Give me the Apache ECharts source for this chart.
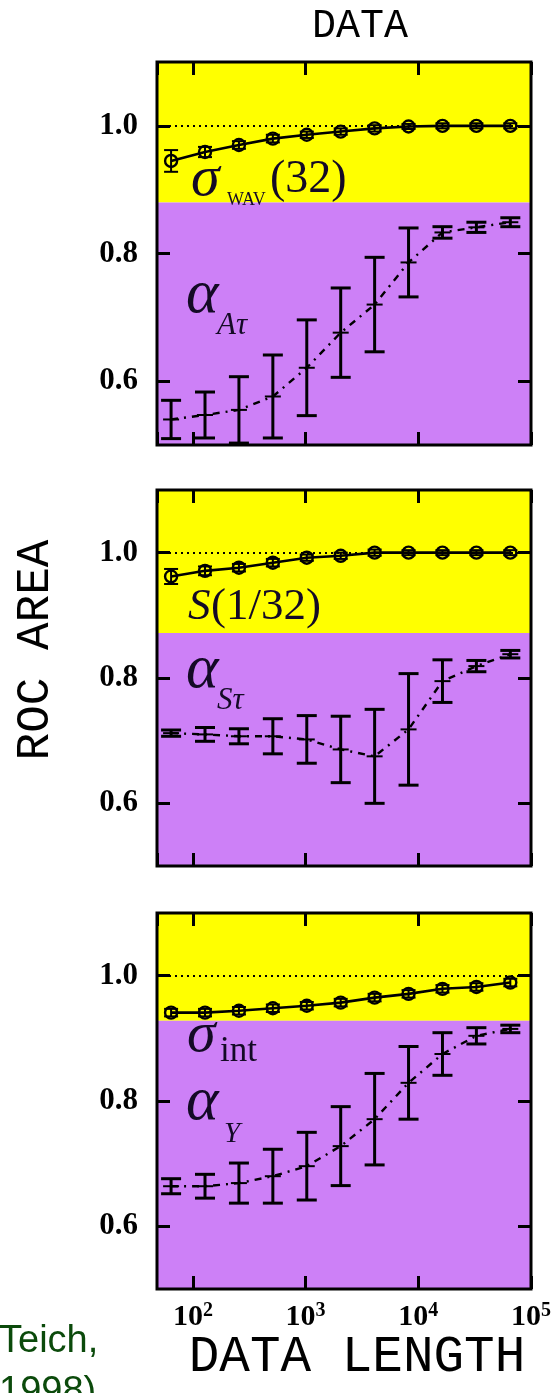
<!DOCTYPE html>
<html><head><meta charset="utf-8">
<script src="https://cdn.jsdelivr.net/npm/echarts@6/dist/echarts.min.js"></script>
<style>html,body{margin:0;padding:0;background:#fff}#c{width:557px;height:1393px}</style>
</head><body><div id="c"></div>
<script>
// ---------- data ----------
const dataLength = [64,128,256,512,1024,2048,4096,8192,16384,32768,65536];
const yTickValues = [0.6, 0.8, 1.0];
const yTickLabels = ['0.6', '0.8', '1.0'];
const xTickValues = [100, 1000, 10000, 100000];
const xTickExps = ['2', '3', '4', '5'];
const refLevel = 1.0;

// panel 1 : sigma_WAV(32) and alpha_Atau
const sigmaWav    = [0.945,0.959,0.970,0.980,0.986,0.991,0.996,0.999,1.000,1.000,1.000];
const sigmaWavErr = [0.017,0.008,0.006,0.006,0.005,0.005,0.005,0.004,0.004,0.004,0.004];
const alphaAt     = [0.540,0.547,0.555,0.576,0.621,0.676,0.720,0.786,0.833,0.841,0.849];
const alphaAtErr  = [0.030,0.036,0.052,0.065,0.075,0.070,0.074,0.054,0.009,0.008,0.007];
const band1 = 0.88;

// panel 2 : S(1/32) and alpha_Stau
const s32      = [0.962,0.971,0.976,0.984,0.992,0.995,1.000,1.000,1.000,1.000,1.000];
const s32Err   = [0.012,0.007,0.006,0.006,0.005,0.005,0.005,0.004,0.004,0.004,0.004];
const alphaSt    = [0.712,0.710,0.707,0.707,0.702,0.686,0.675,0.718,0.795,0.819,0.838];
const alphaStErr = [0.005,0.011,0.012,0.028,0.038,0.053,0.075,0.089,0.034,0.009,0.006];
const band2 = 0.872;

// panel 3 : sigma_int and alpha_Y
const sigmaInt    = [0.941,0.941,0.944,0.948,0.952,0.957,0.965,0.971,0.979,0.982,0.989];
const sigmaIntErr = [0.006,0.006,0.006,0.006,0.006,0.006,0.006,0.006,0.006,0.006,0.006];
const alphaY      = [0.664,0.664,0.669,0.680,0.696,0.728,0.771,0.829,0.875,0.904,0.915];
const alphaYErr   = [0.012,0.019,0.032,0.043,0.054,0.063,0.073,0.058,0.034,0.013,0.006];
const band3 = 0.928;

// ---------- chart ----------
const YELLOW = '#FFFF00', PURPLE = '#CD80F7', INK = '#000';
const LBL = '#140a26';
const grids = [
  {left:157, top:62,  width:374, height:383},
  {left:157, top:490, width:374, height:376},
  {left:157, top:913, width:374, height:376}
];

function errRender(capW, midW, lw){
  return function(params, api){
    const x = api.value(0), y = api.value(1), lo = api.value(2), hi = api.value(3);
    const a = api.coord([x, hi]), b = api.coord([x, lo]), m = api.coord([x, y]);
    const st = {stroke: INK, lineWidth: lw};
    const ch = [
      {type:'line', shape:{x1:a[0], y1:a[1], x2:b[0], y2:b[1]}, style:st},
      {type:'line', shape:{x1:a[0]-capW/2, y1:a[1], x2:a[0]+capW/2, y2:a[1]}, style:st},
      {type:'line', shape:{x1:b[0]-capW/2, y1:b[1], x2:b[0]+capW/2, y2:b[1]}, style:st}
    ];
    if (midW) ch.push({type:'line', shape:{x1:m[0]-midW/2, y1:m[1], x2:m[0]+midW/2, y2:m[1]}, style:{stroke:INK, lineWidth:2}});
    return {type:'group', children: ch};
  };
}
function pairs(ys){ return dataLength.map((x,i)=>[x, ys[i]]); }
function errData(ys, es){ return dataLength.map((x,i)=>[x, ys[i], ys[i]-es[i], ys[i]+es[i]]); }

const xAxes = [], yAxes = [], series = [];
const panels = [
  {up: sigmaWav, upE: sigmaWavErr, lo: alphaAt, loE: alphaAtErr, band: band1},
  {up: s32, upE: s32Err, lo: alphaSt, loE: alphaStErr, band: band2},
  {up: sigmaInt, upE: sigmaIntErr, lo: alphaY, loE: alphaYErr, band: band3}
];
panels.forEach((p, g) => {
  const xb = xAxes.length;
  ['bottom','top'].forEach(pos => {
    xAxes.push({
      type:'log', logBase:10, gridIndex:g, position:pos, min:48, max:100000, z:5,
      axisLine:{show:false}, splitLine:{show:false},
      axisTick:{show:true, inside:true, length:13, lineStyle:{color:INK, width:3}},
      axisLabel:{
        show: (g===2 && pos==='bottom'), showMinLabel:false, margin:12,
        formatter: v => { const i = xTickValues.findIndex(t => Math.abs(t-v)/t < 1e-6); return i<0 ? '' : '{b|10}{s|' + xTickExps[i] + '}'; },
        rich:{
          b:{fontFamily:'Liberation Serif', fontSize:30, color:INK, fontWeight:'bold', lineHeight:33},
          s:{fontFamily:'Liberation Serif', fontSize:20, color:INK, fontWeight:'bold', verticalAlign:'top', lineHeight:20}
        }
      }
    });
  });
  const yb = yAxes.length;
  ['left','right'].forEach(pos => {
    yAxes.push({
      type:'value', gridIndex:g, position:pos, min:0.5, max:1.1, z:5,
      axisLine:{show:false}, splitLine:{show:false},
      axisTick:{show:true, inside:true, length:13, lineStyle:{color:INK, width:3}, customValues: yTickValues},
      axisLabel:{show: pos==='left', margin:19, customValues: yTickValues,
        formatter: v => { const i = yTickValues.findIndex(t => Math.abs(t-v) < 1e-6); return i<0 ? '' : yTickLabels[i]; },
        fontFamily:'Liberation Serif', fontWeight:'bold', fontSize:31, color:INK}
    });
  });
  // background bands
  series.push({
    type:'line', xAxisIndex:xb, yAxisIndex:yb, z:1, data: pairs(p.up), showSymbol:false, symbol:'none',
    lineStyle:{width:0, opacity:0}, silent:true,
    markArea:{silent:true, data:[
      [{yAxis:p.band, itemStyle:{color:YELLOW, opacity:1}}, {yAxis:1.1}],
      [{yAxis:0.5, itemStyle:{color:PURPLE, opacity:1}}, {yAxis:p.band}]
    ]}
  });
  // lower series (dash-dot)
  series.push({
    type:'line', xAxisIndex:xb, yAxisIndex:yb, z:3, data: pairs(p.lo), symbol:'none',
    lineStyle:{color:INK, width:2.4, type:[7,6,2,6]}
  });
  series.push({
    type:'custom', xAxisIndex:xb, yAxisIndex:yb, z:4, clip:true,
    renderItem: errRender(20, 16, 3), data: errData(p.lo, p.loE)
  });
  // upper series (solid + circles) with reference line
  series.push({
    type:'line', xAxisIndex:xb, yAxisIndex:yb, z:4, data: pairs(p.up),
    symbol:'circle', symbolSize:12,
    itemStyle:{color:'rgba(0,0,0,0)', borderColor:INK, borderWidth:2.4},
    lineStyle:{color:INK, width:2.6},
    markLine:{silent:true, symbol:'none', label:{show:false},
      lineStyle:{color:INK, width:2, type:[2,4]}, data:[{yAxis:refLevel}]}
  });
  series.push({
    type:'custom', xAxisIndex:xb, yAxisIndex:yb, z:4, clip:true,
    renderItem: errRender(14, 0, 2), data: errData(p.up, p.upE)
  });
});

function t(text, x, y, font){
  return {type:'text', x:x, y:y, z:20, silent:true,
    style:{text:text, font:font, fill:LBL, align:'left', verticalAlign:'middle', textAlign:'left', textVerticalAlign:'middle'}};
}
const graphic = [
  // titles
  {type:'text', x:360, y:26, z:20, style:{text:'DATA', font:'40px "Liberation Mono"', fill:INK, align:'center', verticalAlign:'middle', textAlign:'center', textVerticalAlign:'middle'}},
  {type:'text', x:357, y:1357, z:20, style:{text:'DATA LENGTH', font:'51px "Liberation Mono"', fill:INK, align:'center', verticalAlign:'middle', textAlign:'center', textVerticalAlign:'middle'}},
  {type:'text', x:36, y:650, z:20, rotation:Math.PI/2, style:{text:'ROC AREA', font:'46px "Liberation Mono"', fill:INK, align:'center', verticalAlign:'middle', textAlign:'center', textVerticalAlign:'middle'}},
  // green citation fragment
  {type:'text', x:-1, y:1342, z:20, style:{text:'Teich,', font:'38px "Liberation Sans"', fill:'#0b4a0b', align:'left', verticalAlign:'middle', textAlign:'left', textVerticalAlign:'middle'}},
  {type:'text', x:-1, y:1393, z:20, style:{text:'1998)', font:'38px "Liberation Sans"', fill:'#0b4a0b', align:'left', verticalAlign:'middle', textAlign:'left', textVerticalAlign:'middle'}},
  // panel 1 labels
  t('σ', 191, 180, 'italic 58px "Liberation Serif"'),
  t('WAV', 227, 200, '18px "Liberation Serif"'),
  t('(32)', 270, 180, '46px "Liberation Serif"'),
  t('α', 186, 296, 'italic 62px "Liberation Serif"'),
  t('Aτ', 217, 326, 'italic 31px "Liberation Serif"'),
  // panel 2 labels
  t('S', 188, 607, 'italic 45px "Liberation Serif"'),
  t('(1/32)', 211, 607, '45px "Liberation Serif"'),
  t('α', 186, 671, 'italic 62px "Liberation Serif"'),
  t('Sτ', 217, 701, 'italic 31px "Liberation Serif"'),
  // panel 3 labels
  t('σ', 187, 1036, 'italic 58px "Liberation Serif"'),
  t('int', 220, 1052, '35px "Liberation Serif"'),
  t('α', 186, 1103, 'italic 62px "Liberation Serif"'),
  t('Y', 224, 1134, 'italic 29px "Liberation Serif"')
];

const chart = echarts.init(document.getElementById('c'), null, {renderer:'canvas'});
chart.setOption({
  animation:false,
  backgroundColor:'#fff',
  grid: grids.map(g => Object.assign({show:true, borderColor:INK, borderWidth:3, backgroundColor:'rgba(0,0,0,0)', z:10}, g)),
  xAxis: xAxes, yAxis: yAxes, series: series, graphic: graphic
});
</script></body></html>
